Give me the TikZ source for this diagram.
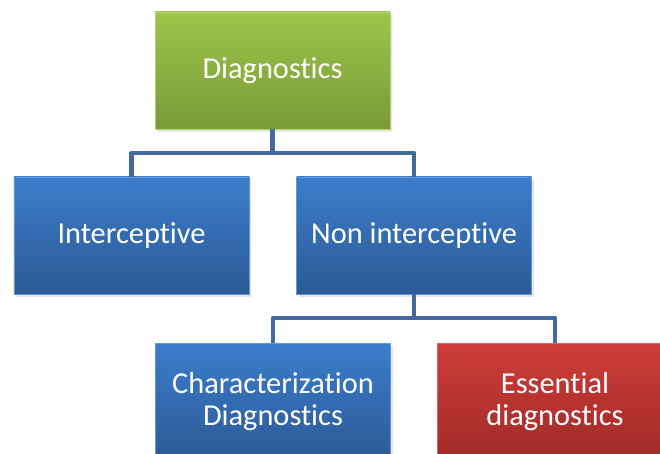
\documentclass[tikz,border=0pt]{standalone}
\usepackage{fontspec}
\setmainfont{Carlito}[Ligatures=NoCommon]
\usetikzlibrary{shadows}
\definecolor{gtop}{HTML}{9DC64B}
\definecolor{gbot}{HTML}{789A38}
\definecolor{btop}{HTML}{3B7DCC}
\definecolor{bbot}{HTML}{2D5A96}
\definecolor{rtop}{HTML}{CE3D3A}
\definecolor{rbot}{HTML}{A02A27}
\definecolor{conn}{HTML}{44699C}
\tikzset{
  box/.style={rectangle, minimum width=235bp, minimum height=117bp, inner sep=0pt,
    text=white, align=center, font=\fontsize{30.5}{33}\selectfont,
    drop shadow={shadow xshift=2bp, shadow yshift=-3bp, opacity=0.2}},
  greenbox/.style={box, top color=gtop, bottom color=gbot, draw=gtop!80!white, line width=0.6bp},
  bluebox/.style={box, top color=btop, bottom color=bbot, draw=btop!80!white, line width=0.6bp},
  redbox/.style={box, top color=rtop, bottom color=rbot, draw=rtop!80!white, line width=0.6bp},
  link/.style={draw=conn, line width=4.5bp, line join=round}
}
\begin{document}
\begin{tikzpicture}[x=1bp,y=-1bp]
\useasboundingbox (0,0) rectangle (660,454);
\clip (0,0) rectangle (660,454);
\fill[white] (0,0) rectangle (660,454);
\node[greenbox] (top) at (272.5,70.5) {Diagnostics};
\node[bluebox] (inter) at (131.5,235.5) {Interceptive};
\node[bluebox] (non) at (414,235.5) {Non interceptive};
\node[bluebox] (char) at (273,401.5) {Characterization\\Diagnostics};
\node[redbox] (ess) at (555,401.5) {Essential\\diagnostics};
\coordinate (j1) at (272.5,153);
\coordinate (j2) at (414,318);
\draw[link] (top.south) -- (j1) -| (inter.north);
\draw[link] (j1) -| (non.north);
\draw[link] (non.south) -- (j2) -| (char.north);
\draw[link] (j2) -| (ess.north);
\end{tikzpicture}
\end{document}
